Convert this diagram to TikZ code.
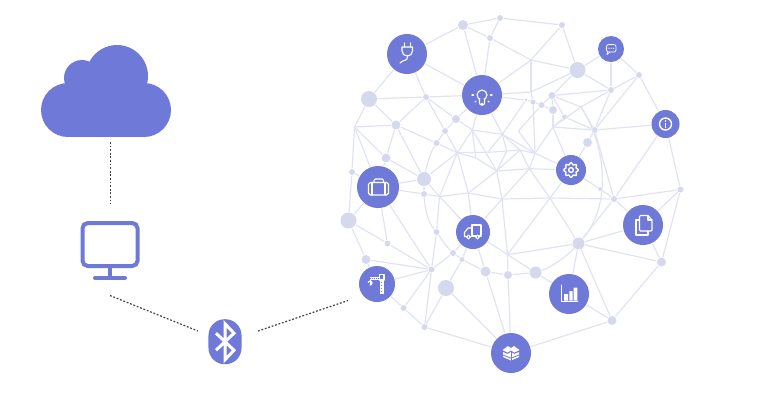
\documentclass[tikz,border=0pt]{standalone}
\usepackage{amsmath}
\usepackage{tikz}
\definecolor{hubblue}{HTML}{6F79D8}
\definecolor{dotblue}{HTML}{D6D9EE}
\definecolor{meshblue}{HTML}{E1E3F4}
\tikzset{
	hubnode/.style={circle,fill=hubblue,inner sep=0pt,minimum size=#1*0.02cm},
	dotnode/.style={circle,fill=dotblue,inner sep=0pt,minimum size=#1*0.02cm},
	meshline/.style={meshblue,line width=0.012cm},
	linkline/.style={black!75,line width=0.012cm,dash pattern=on 0.018cm off 0.018cm},
	iconline/.style={white,line width=0.011cm,line join=round,line cap=round},
	iconfill/.style={fill=white,draw=none},
}
\begin{document}
\begin{tikzpicture}[x=0.01cm,y=-0.01cm]
	\useasboundingbox (0,0) rectangle (768,402);

	\foreach \name/\x/\y/\r in {plug/407/54/20,bulb/482/95/20,chat/611/49/13,info/665.5/124/14,gear/571/170/15,case/378/187/21,truck/473/232/17,docs/643/225/20,chart/569/294/20,crane/377/284/18,box/511/353/20}
		\node[hubnode=\r] (\name) at (\x,\y) {};

	\foreach \name/\x/\y/\r in {a1/463/25/5,a2/500/18/3,a3/490/38/3,a4/369/99/8,a5/426/97/3,a6/396/125/4.5,a7/456/119/4,a8/445/131/3,a9/436.5/143/3,a10/386/158/4.5,a11/352/172/3,a12/424/179/7,a13/424/194/3,b1/562/25/3,b2/577.5/70/8,b3/611/90/3,b4/639/75/3,b5/552/95.5/3.5,b6/541.5/105/3,b7/553/110/4,b8/533/102/2.5,b9/564.5/117/2.5,b10/594.5/130/3,b11/587.5/142.5/4.5,b12/600/189/2,b13/614/199/3,b14/680.5/189.5/3,d1/348.5/220.5/8,d2/387.5/243.5/3,d3/366/259.5/4.5,d4/431.5/269.5/3,d5/436.5/232/3,d6/453/253/3,d7/462/259.5/2.5,d8/485.5/271.5/5,d9/508/275/4,d10/446/288/8,d11/403.5/308/3,d12/424.5/327/3,e1/578.5/243.5/6,e2/535.5/272.5/6,e3/661.5/262/4.5,e4/612/320.5/4.5,b0/526/100/1.5}
		\node[dotnode=\r] (\name) at (\x,\y) {};

	\foreach \name/\x/\y in {corner/354.5/127,c1/531/60,c2/531/92,c3/581/107,c4/553/127,p1/502.3/134.3,p2/472.3/130,p3/457.3/152.7,p4/475.7/157.7,p5/487.7/152.3,p6/506.7/151,p7/496.7/171,p8/520/150,p9/535/153.3,p10/529.3/168.7,p11/518.3/131,p12/468.3/193,p13/502/199,p14/439.5/196.5,p15/507.5/254.7,p16/550/198}
		\coordinate (\name) at (\x,\y);

	\foreach \a/\b in {plug/a1,a1/a2,a1/a3,a2/a3,a2/b1,a3/c1,plug/bulb,a1/bulb,a3/bulb,bulb/c1,b1/c1,b1/b2,c1/b2,c1/c2,c2/b2,c2/bulb,c2/b8,b5/b3,plug/a4,plug/a5,a4/a5,a5/bulb,a4/a6,a4/corner,a5/a6,a5/a7,a5/a8,a8/p3,a7/bulb,a7/a8,a8/a9,a7/p2,a6/a9,a6/corner,a6/a10,a6/a12,corner/a10,corner/a11,corner/case,a10/case,a10/a12,a11/case,a11/d1,case/a12,case/a13,a12/a13,a12/p3,a12/p14,a13/p14,p3/p14,p3/p12,p3/a9,p3/p4,p3/p2,p3/p5,p2/bulb,p2/p1,p2/p4,p2/p7,p1/bulb,p1/p6,p1/p5,p1/p9,p1/p8,p1/b0,p5/p6,p6/p7,p6/p8,p4/p7,p7/p8,p8/p10,p7/p10,p10/gear,p9/gear,p8/p9,p9/p10,p9/c4,p11/b6,p11/p9,b8/p9,b0/bulb,b0/b8,b8/b6,b6/b7,b6/b5,b5/b7,b7/c4,c4/gear,c4/b10,c4/b9,c4/c3,c3/b3,b5/c3,c3/b10,b5/b9,b9/b10,b10/b11,b11/gear,b10/b13,gear/b12,b12/b13,b3/b2,b3/chat,b3/b4,b3/b10,b4/b10,chat/b4,chat/b2,b4/info,info/b10,info/b13,info/b14,b2/b5,p13/p16,p16/b13,b13/b14,b13/docs,b13/e1,gear/p16,p10/p16,p16/e1,p16/p15,p7/p13,p10/p13,p7/p12,p12/p14,p14/truck,p12/truck,p13/truck,p12/p13,p13/p15,p15/e1,p15/truck,p15/d9,p15/e2,e2/d9,e2/chart,d8/d9,d8/truck,d8/d7,d8/box,d9/box,d7/truck,d6/truck,d6/d7,d7/d10,d6/d4,p14/d5,d5/d4,case/d4,case/d2,case/d1,d1/d2,d1/d3,d2/d4,d3/d4,d3/crane,crane/d4,crane/d11,d11/d4,d11/d12,d4/d12,d12/d10,d12/box,d10/box,e1/chart,e1/e3,e1/docs,e1/e4,chart/e4,e3/e4,docs/e3,docs/b14,b14/e3,box/e4}
		\draw[meshline] (\a) -- (\b);

	\draw[meshline] (a9) .. controls (430,153) and (427,165) .. (a12);
	\draw[meshline] (a13) .. controls (425,210) and (428,222) .. (d5);
	\draw[meshline] (d5) .. controls (442,240) and (447,247) .. (d6);
	\draw[meshline] (c3) .. controls (606,145) and (612,205) .. (e1);
	\draw[meshline] (e2) .. controls (552,267) and (568,255) .. (e1);

	\foreach \x/\y/\r in {68/110/27,82/78/18,117/76/31,144/110/27}
		\fill[hubblue] (\x,\y) circle (\r);
	\fill[hubblue] (68,88) rectangle (144,137);
	\coordinate (cloudend) at (110.5,142);
	\coordinate (screentop) at (110.5,204);
	\draw[linkline] (cloudend) -- (screentop);

	\draw[hubblue,line width=0.04cm,rounded corners=1.5pt] (82.5,223) rectangle (137.5,266);
	\draw[hubblue,line width=0.04cm] (110,268) -- (110,277);
	\draw[hubblue,line width=0.04cm,line cap=round] (95,278) -- (125,278);

	\coordinate (screenfoot) at (110,295.5);
	\coordinate (bleft) at (198,331);
	\coordinate (bright) at (258,331);
	\coordinate (crawlend) at (348,300.5);
	\draw[linkline] (screenfoot) -- (bleft);
	\draw[linkline] (bright) -- (crawlend);

	\node[fill=hubblue,inner sep=0pt,minimum width=0.33cm,minimum height=0.45cm,rounded corners=4.6pt] (bluetooth) at (225,341.7) {};
	\begin{scope}[shift={(bluetooth)}]
		\draw[iconline,line width=0.03cm,line cap=butt,line join=miter] (-9,-8.5) -- (9,8.5) -- (0,18) -- (0,-18) -- (9,-8.5) -- (-9,8.5);
	\end{scope}

	\begin{scope}[shift={(plug)}]
		\draw[iconline] (-2.3,-11) -- (-2.3,-7) (3.7,-11) -- (3.7,-7);
		\draw[iconline] (-5,-7) -- (5.5,-7) -- (5.5,-3) .. controls (5.5,0) and (3,2) .. (0.5,2) .. controls (-2.5,2) and (-5,0) .. (-5,-3) -- cycle;
		\draw[iconline] (0.5,2) .. controls (1,8) and (-4,5) .. (-7,9);
	\end{scope}

	\begin{scope}[shift={(bulb)}]
		\draw[iconline] (0,0) circle (5);
		\draw[iconline,fill=hubblue,rounded corners=0.6pt] (-2.5,4) -- (-2.5,10) -- (2.5,10) -- (2.5,4);
		\foreach \ang in {0,45,90,135,180}
			\draw[iconline] (\ang:8.5) -- (\ang:10);
	\end{scope}

	\begin{scope}[shift={(chat)}]
		\draw[iconline,line width=0.007cm,rounded corners=0.6pt] (-4.5,-4.5) rectangle (5,3);
		\draw[iconline,line width=0.007cm] (-3.5,3) -- (-4,5.5) -- (-1,3);
		\foreach \dotx in {-2,0.3,2.6}
			\fill[white] (\dotx,-0.7) circle (0.6);
	\end{scope}

	\begin{scope}[shift={(info)}]
		\draw[iconline,line width=0.014cm] (0,0) circle (6);
		\draw[iconline,line width=0.018cm,line cap=butt] (0,-1) -- (0,3.5);
		\fill[white] (0,-3) circle (0.9);
	\end{scope}

	\begin{scope}[shift={(gear)}]
		\draw[iconline,line width=0.014cm] plot[domain=0:360,samples=73,smooth] ({\x}:{6.4+0.9*cos(8*\x)}) -- cycle;
		\draw[iconline,line width=0.014cm] (0,0) circle (2.4);
	\end{scope}

	\begin{scope}[shift={(case)}]
		\draw[iconline,rounded corners=0.5pt] (-9.5,-4.5) rectangle (10.5,8);
		\draw[iconline] (-6,-4.5) -- (-6,8) (7,-4.5) -- (7,8);
		\draw[iconline,rounded corners=0.4pt] (-4,-4.5) -- (-4,-8) -- (5.5,-8) -- (5.5,-4.5);
	\end{scope}

	\begin{scope}[shift={(truck)}]
		\draw[iconline] (-1,3.5) -- (-1,-7) -- (8,-7) -- (8,3.5) -- (-1,3.5);
		\draw[iconline] (-1,-4) -- (-5,-4) -- (-8.5,0.5) -- (-8.5,4.5) -- (-6.5,4.5);
		\draw[iconline] (-2.5,4.5) -- (2.5,4.5) (6.5,4.5) -- (8,4.5);
		\draw[iconline,fill=hubblue] (-4.5,5) circle (1.9) (4.5,5) circle (1.9);
	\end{scope}

	\begin{scope}[shift={(docs)}]
		\draw[iconline] (-4,-5) -- (-7,-5) -- (-7,10) -- (5,10) -- (5,6);
		\draw[iconline,rounded corners=0.3pt] (-3.5,-9.5) -- (5,-9.5) -- (9,-5) -- (9,6) -- (-3.5,6) -- cycle;
		\draw[iconline] (5,-9.5) -- (5,-5) -- (9,-5);
	\end{scope}

	\begin{scope}[shift={(chart)}]
		\draw[iconline,line width=0.008cm] (-7.5,-9) -- (-7.5,7.5) -- (9,7.5);
		\fill[iconfill] (-5,0) rectangle (-1,6.5) (0.3,-3) rectangle (3.5,6.5) (4.7,-6.5) rectangle (8.3,6.5);
	\end{scope}

	\begin{scope}[shift={(crane)}]
		\fill[iconfill] (2.5,-3) rectangle (7,10);
		\draw[iconline] (2.5,-9.5) rectangle (7,-4);
		\fill[iconfill] (-7.5,-7.5) rectangle (3,-4);
		\draw[hubblue,line width=0.01cm,dash pattern=on 0.01cm off 0.01cm] (-7,-5.7) -- (2.5,-5.7);
		\draw[hubblue,line width=0.012cm,dash pattern=on 0.012cm off 0.018cm] (4.7,-2) -- (4.7,10);
		\draw[iconline,line width=0.008cm] (-7,-4) -- (-7,1);
		\draw[iconline] (-7,1) arc (90:-160:2);
	\end{scope}

	\begin{scope}[shift={(box)}]
		\fill[iconfill] (-8.5,-3) -- (-3,-7) -- (0,-5) -- (3,-7) -- (8.5,-3) -- (3.5,-0.5) -- (0,-2.5) -- (-3.5,-0.5) -- cycle;
		\fill[iconfill] (-8,-1) -- (-3.5,1) -- (0,-1) -- (3.5,1) -- (8,-1) -- (8,4) -- (0,7.5) -- (-8,4) -- cycle;
		\draw[hubblue,line width=0.008cm] (0,-1) -- (0,7.5);
		\draw[hubblue,line width=0.008cm] (-8,2) -- (0,5.2) -- (8,2);
	\end{scope}
\end{tikzpicture}
\end{document}
